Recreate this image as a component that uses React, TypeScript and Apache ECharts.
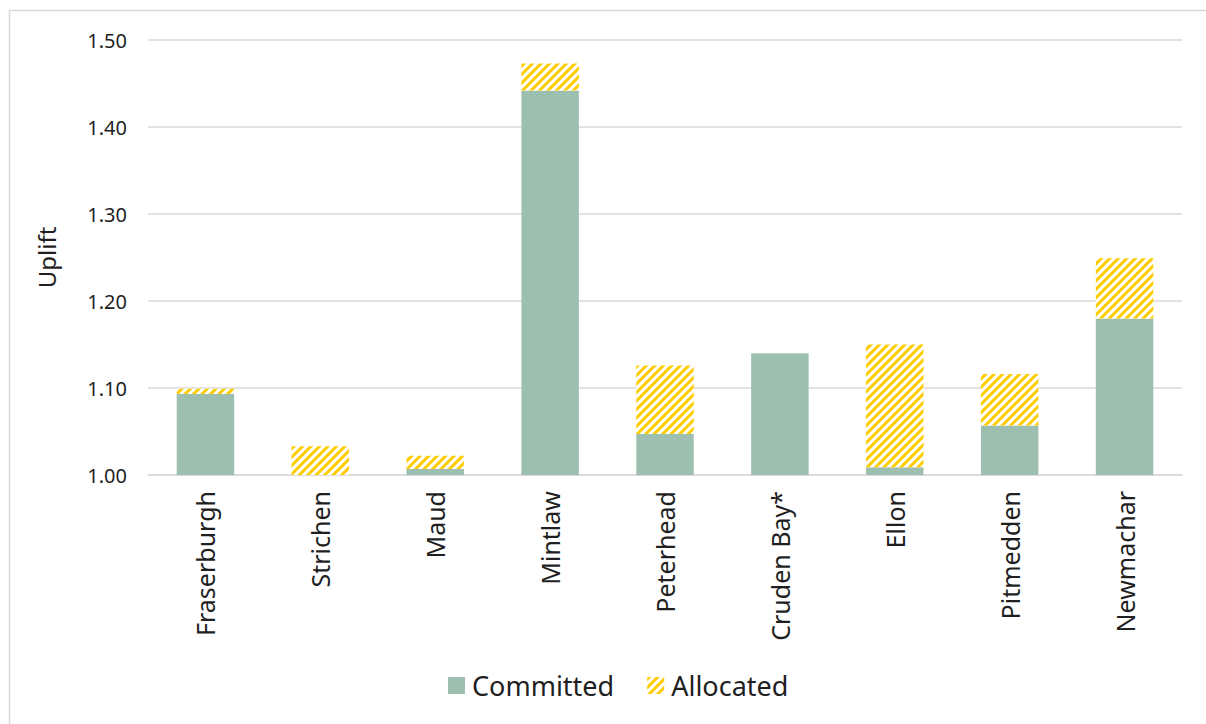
import React, { useEffect, useRef } from "react";
import * as echarts from "echarts";

const categories = ["Fraserburgh", "Strichen", "Maud", "Mintlaw", "Peterhead", "Cruden Bay*", "Ellon", "Pitmedden", "Newmachar"];
const committed = [1.093, 1.0, 1.007, 1.442, 1.047, 1.140, 1.009, 1.057, 1.180];
const allocated = [0.006, 0.033, 0.015, 0.031, 0.079, 0, 0.141, 0.059, 0.069];
const yTicks = { min: 1.0, max: 1.5, interval: 0.1 };

const FONT = "'Noto Sans', 'Liberation Sans', sans-serif";
const TEXT = "#1f1f1f";

export default function App() {
  const ref = useRef<HTMLDivElement>(null);
  useEffect(() => {
    if (!ref.current) return;
    const chart = echarts.init(ref.current, null, { renderer: "svg" });
    chart.setOption({
      animation: false,
      backgroundColor: "#ffffff",
      textStyle: { fontFamily: FONT },
      graphic: [
        {
          type: "rect",
          shape: { x: 9.5, y: 10.5, width: 1210, height: 730 },
          style: { fill: "none", stroke: "#d9d9d9", lineWidth: 1.5 },
          silent: true,
        },
      ],
      grid: { left: 148, right: 24, top: 40, bottom: 249, containLabel: false },
      legend: {
        bottom: 20,
        left: 443,
        itemWidth: 17,
        itemHeight: 17,
        itemGap: 33,
        icon: "rect",
        textStyle: { fontFamily: FONT, fontSize: 27, color: TEXT, padding: [0, 0, 0, 2] },
        data: ["Committed", "Allocated"],
      },
      xAxis: {
        type: "category",
        data: categories,
        axisLine: { show: true, lineStyle: { color: "#d9d9d9", width: 1.5 } },
        axisTick: { show: false },
        axisLabel: { rotate: 90, margin: 16, fontFamily: FONT, fontSize: 25, color: TEXT, interval: 0 },
      },
      yAxis: {
        type: "value",
        min: yTicks.min,
        max: yTicks.max,
        interval: yTicks.interval,
        name: "Uplift",
        nameLocation: "middle",
        nameRotate: 90,
        nameGap: 90,
        nameTextStyle: { fontFamily: FONT, fontSize: 24, color: TEXT },
        axisLine: { show: false },
        axisTick: { show: false },
        axisLabel: { formatter: (v: number) => v.toFixed(2), fontFamily: FONT, fontSize: 20, color: TEXT, margin: 21 },
        splitLine: { lineStyle: { color: "#d9d9d9", width: 1.5 } },
      },
      series: [
        {
          name: "Committed",
          type: "bar",
          stack: "total",
          barWidth: "50%",
          data: committed,
          itemStyle: { color: "#9dbfaf" },
        },
        {
          name: "Allocated",
          type: "bar",
          stack: "total",
          barWidth: "50%",
          data: allocated,
          itemStyle: {
            color: "#ffffff",
            decal: {
              symbol: "rect",
              symbolSize: 1,
              color: "#ffcc00",
              dashArrayX: [1, 0],
              dashArrayY: [3, 3],
              rotation: -Math.PI / 4,
            },
          },
        },
      ],
    });
    return () => chart.dispose();
  }, []);
  return <div ref={ref} style={{ position: "absolute", left: 0, top: 0, width: 1206, height: 724 }} />;
}
